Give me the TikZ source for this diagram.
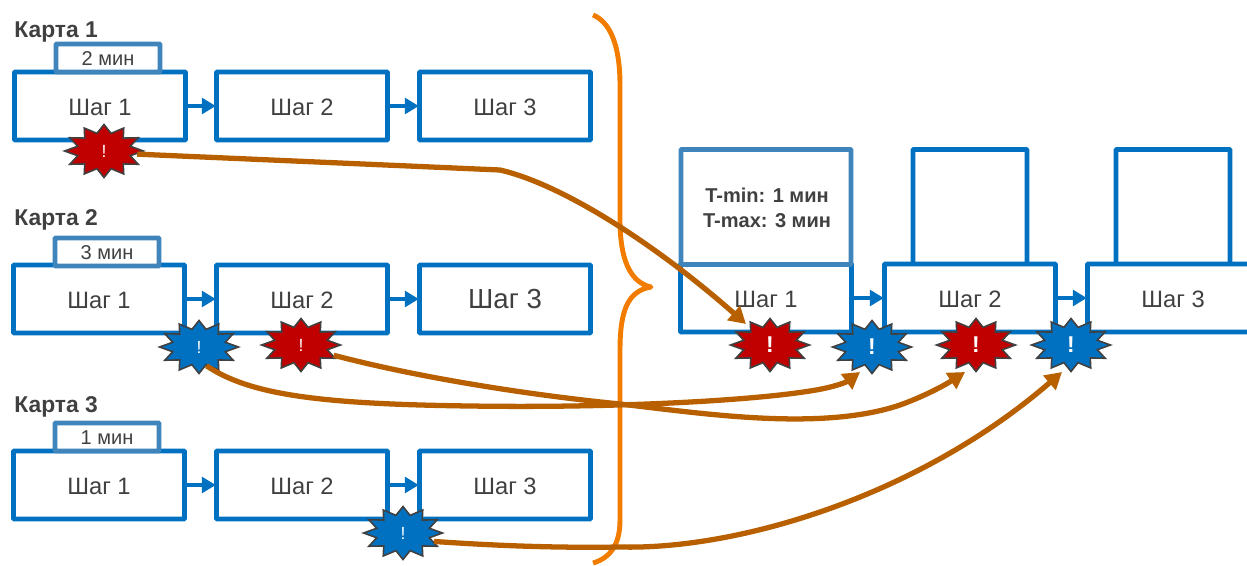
\documentclass[tikz,border=0pt]{standalone}
\usepackage{fontspec}
\setmainfont{Liberation Sans}
\usepackage{tikz}
\usetikzlibrary{arrows.meta}
\usetikzlibrary{shapes.geometric}
\definecolor{stepblue}{HTML}{0070C0}
\definecolor{timeblue}{HTML}{3F85BC}
\definecolor{burstred}{HTML}{C00000}
\definecolor{flowbrown}{HTML}{B85F00}
\definecolor{braceorange}{HTML}{F27C00}
\definecolor{inkgrey}{HTML}{404040}
\newcommand{\alarmmark}{\scalebox{0.67}[1]{!}}
\tikzset{stepbox/.style = {draw = stepblue, line width = 2.8pt, fill = white, rounded corners = 0.5pt,
                           minimum width = 3.42cm, minimum height = 1.36cm, inner sep = 0, text height = 0.38cm,
                           text = inkgrey, font = \fontsize{13.5}{15}\selectfont}}
\tikzset{timebox/.style = {draw = timeblue, line width = 2.8pt, fill = white, rounded corners = 0.5pt,
                           minimum width = 2.08cm, minimum height = 0.56cm, inner sep = 0, text height = 0.29cm,
                           text = inkgrey, font = \fontsize{11.4}{13}\selectfont}}
\tikzset{cardlabel/.style = {anchor = west, inner sep = 0, text = inkgrey,
                             font = \bfseries\fontsize{13}{15}\selectfont}}
\tikzset{notetext/.style = {inner sep = 0, align = center, text = inkgrey,
                            font = \bfseries\fontsize{11.4}{14}\selectfont}}
\tikzset{link/.style = {draw = stepblue, line width = 2.8pt, -{Triangle[length = 8pt, width = 9pt]}, shorten >= -1pt}}
\tikzset{flow/.style = {draw = flowbrown, line width = 3pt, line join = round,
                        -{Triangle[length = 9.5pt, width = 10.5pt]}}}
\tikzset{burst/.style = {star, star points = 12, star point ratio = 1.45, minimum size = 1.06cm,
                         xscale = 1.49, transform shape,
                         inner sep = 0, draw = inkgrey, line width = 0.9pt, text = white,
                         font = \fontsize{10}{12}\selectfont}}
\tikzset{bigburst/.style = {burst, font = \bfseries\fontsize{13}{15}\selectfont}}

\begin{document}
\begin{tikzpicture}[x=0.02cm, y=-0.02cm]
    \useasboundingbox (0, 0) rectangle (1247, 565);

    \node [cardlabel] (cardA) at (14, 32) {Карта 1};
    \node [cardlabel] (cardB) at (14, 220) {Карта 2};
    \node [cardlabel] (cardC) at (14, 407) {Карта 3};

    \node [stepbox] (stepAa) at (100, 106) {Шаг 1};
    \node [stepbox] (stepAb) at (302, 106) {Шаг 2};
    \node [stepbox] (stepAc) at (505, 106) {Шаг 3};
    \node [timebox] (timeA) at (108, 58) {2 мин};
    \draw [link] (stepAa) -- (stepAb);
    \draw [link] (stepAb) -- (stepAc);

    \node [stepbox] (stepBa) at (99, 299) {Шаг 1};
    \node [stepbox] (stepBb) at (302, 299) {Шаг 2};
    \node [stepbox, font = \fontsize{15.7}{18}\selectfont] (stepBc) at (505, 299) {Шаг 3};
    \node [timebox] (timeB) at (107, 252) {3 мин};
    \draw [link] (stepBa) -- (stepBb);
    \draw [link] (stepBb) -- (stepBc);

    \node [stepbox] (stepCa) at (99, 485) {Шаг 1};
    \node [stepbox] (stepCb) at (302, 485) {Шаг 2};
    \node [stepbox] (stepCc) at (505, 485) {Шаг 3};
    \node [timebox] (timeC) at (107, 437) {1 мин};
    \draw [link] (stepCa) -- (stepCb);
    \draw [link] (stepCb) -- (stepCc);

    \node [stepbox, minimum width = 2.28cm, minimum height = 2.3cm] (noteE) at (970, 207) {};
    \node [stepbox, minimum width = 2.28cm, minimum height = 2.3cm] (noteF) at (1173, 207) {};
    \node [stepbox] (stepDa) at (766, 298) {Шаг 1};
    \node [stepbox] (stepDb) at (970, 298) {Шаг 2};
    \node [stepbox] (stepDc) at (1173, 298) {Шаг 3};
    \node [timebox, minimum width = 3.4cm, minimum height = 2.3cm] (noteD) at (766, 207) {};
    \node [notetext] (noteText) at (767, 208) {T-min: 1 мин\\T-max: 3 мин};
    \draw [link] (stepDa) -- (stepDb);
    \draw [link] (stepDb) -- (stepDc);

    \draw [draw = braceorange, line width = 2.8pt, line join = round] (593, 15) .. controls (610, 22) and (620, 45) .. (620, 85)
        -- (620, 220) .. controls (620, 255) and (628, 282) .. (651, 287)
        .. controls (628, 291) and (620, 310) .. (620, 350)
        -- (620, 520) .. controls (620, 545) and (610, 558) .. (593, 563);

    \node [burst, fill = burstred] (alarmA) at (104, 151) {\alarmmark};
    \node [burst, fill = stepblue] (alarmB) at (199, 347) {\alarmmark};
    \node [burst, fill = burstred] (alarmC) at (301, 345) {\alarmmark};
    \node [burst, fill = stepblue] (alarmD) at (403, 533) {\alarmmark};
    \node [bigburst, fill = burstred] (alarmE) at (770, 345) {\alarmmark};
    \node [bigburst, fill = stepblue] (alarmF) at (872, 347) {\alarmmark};
    \node [bigburst, fill = burstred] (alarmG) at (976, 345) {\alarmmark};
    \node [bigburst, fill = stepblue] (alarmH) at (1071, 345) {\alarmmark};

    \coordinate (bendA) at (500, 170);
    \coordinate (tipE) at (746, 324);
    \coordinate (tipF) at (860, 372);
    \coordinate (tipG) at (965, 372);
    \coordinate (tipH) at (1062, 372);
    \draw [flow] (alarmA.-8) -- (bendA) .. controls (565, 185) and (660, 248) .. (tipE);
    \draw [flow] (alarmB.-75) .. controls (250, 395) and (320, 404) .. (470, 406)
        .. controls (600, 408) and (740, 402) .. (810, 391)
        .. controls (830, 388) and (845, 383) .. (tipF);
    \draw [flow] (alarmC.-25) .. controls (420, 378) and (530, 395) .. (620, 404)
        .. controls (700, 413) and (820, 432) .. (900, 405)
        .. controls (925, 396) and (945, 385) .. (tipG);
    \draw [flow] (alarmD.-22) .. controls (500, 546) and (560, 548) .. (620, 547)
        .. controls (740, 550) and (920, 495) .. (tipH);
\end{tikzpicture}
\end{document}
